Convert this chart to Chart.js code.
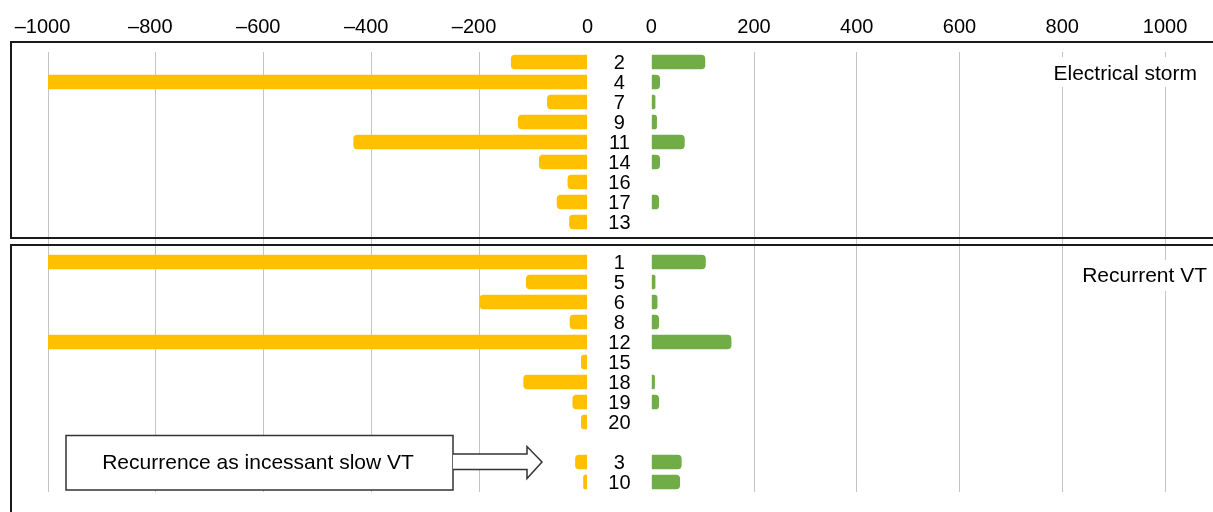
<!DOCTYPE html>
<html>
<head>
<meta charset="utf-8">
<script src="https://cdn.jsdelivr.net/npm/chart.js@4.4.1/dist/chart.umd.min.js"></script>
<style>
  html, body { margin: 0; padding: 0; background: #fff; }
  #wrap { width: 1213px; height: 512px; }
</style>
</head>
<body>
<div id="wrap"><canvas id="chart" width="1213" height="512"></canvas></div>
<script>
// patient numbers, top to bottom ("" = spacer row between groups)
const patients = ["2", "4", "7", "9", "11", "14", "16", "17", "13", "",
                  "1", "5", "6", "8", "12", "15", "18", "19", "20", "", "3", "10"];
// values drawn to the left of zero (yellow)
const leftValues = [142, 1000, 75, 129, 434, 90, 37, 57, 34, null,
                    1000, 114, 200, 33, 1000, 12, 119, 28, 12, null, 23, 8];
// values drawn to the right of zero (green)
const rightValues = [105, 17, 8, 11, 65, 17, null, 15, null, null,
                     106, 8, 12, 15, 156, null, 7, 15, null, null, 59, 56];
const leftTicks = [-1000, -800, -600, -400, -200, 0];
const rightTicks = [0, 200, 400, 600, 800, 1000];
const groupLabels = ["Electrical storm", "Recurrent VT"];
const calloutText = "Recurrence as incessant slow VT";

const FONT = '"Liberation Sans", Arial, Helvetica, sans-serif';
const YELLOW = "#FFC000";
const GREEN = "#70AD47";
const GRID = "#c4c4c4";

function gridColor(c) {
  return c.tick && c.tick.value === 0 ? "rgba(0,0,0,0)" : GRID;
}

// tick labels, boxes, labels in the middle and the callout
const decorations = {
  id: "decorations",
  afterDraw(chart) {
    const ctx = chart.ctx;
    const xl = chart.scales.xl, xr = chart.scales.xr, y = chart.scales.y;
    const area = chart.chartArea;
    ctx.save();

    // axis numbers: digits centred on the tick, the dash hangs to the left
    ctx.fillStyle = "#000";
    ctx.font = "20px " + FONT;
    ctx.textBaseline = "middle";
    ctx.textAlign = "left";
    [[xl, leftTicks], [xr, rightTicks]].forEach(([scale, ticks]) => {
      ticks.forEach(v => {
        const px = scale.getPixelForValue(v);
        const digits = String(Math.abs(v));
        const label = v < 0 ? "\u2013" + digits : digits;
        const wd = ctx.measureText(digits).width;
        const wl = ctx.measureText(label).width;
        ctx.fillText(label, px + wd / 2 - wl, 27);
      });
    });

    // panel boxes
    const gapY = y.getPixelForValue(9);
    ctx.strokeStyle = "#1a1a1a";
    ctx.lineWidth = 2;
    ctx.strokeRect(area.left, area.top - 10, 1260, gapY - 4 - (area.top - 10));
    ctx.strokeRect(area.left, gapY + 3, 1260, 400);

    // group titles
    ctx.font = "21px " + FONT;
    ctx.fillStyle = "#fff";
    ctx.fillRect(1045, 57, 160, 30);
    ctx.fillRect(1075, 260, 140, 31);
    ctx.fillStyle = "#000";
    ctx.textAlign = "right";
    ctx.fillText(groupLabels[0], 1197, 74);
    ctx.fillText(groupLabels[1], 1207, 276);

    // patient numbers between the two sides
    const midX = (xl.getPixelForValue(0) + xr.getPixelForValue(0)) / 2;
    ctx.font = "20px " + FONT;
    ctx.textAlign = "center";
    patients.forEach((p, i) => {
      if (p) ctx.fillText(p, midX, y.getPixelForValue(i) + 1);
    });

    // callout with arrow
    const tipY = y.getPixelForValue(20);
    ctx.fillStyle = "#fff";
    ctx.strokeStyle = "#333";
    ctx.lineWidth = 1.5;
    ctx.beginPath();
    ctx.rect(66, 435.5, 387, 54.5);
    ctx.fill();
    ctx.stroke();
    ctx.beginPath();
    ctx.moveTo(453, tipY - 8);
    ctx.lineTo(527, tipY - 8);
    ctx.lineTo(527, tipY - 15.5);
    ctx.lineTo(542, tipY);
    ctx.lineTo(527, tipY + 16.5);
    ctx.lineTo(527, tipY + 7.5);
    ctx.lineTo(453, tipY + 7.5);
    ctx.fill();
    ctx.stroke();
    ctx.fillStyle = "#000";
    ctx.font = "21px " + FONT;
    ctx.textAlign = "center";
    ctx.fillText(calloutText, 258, 463);

    ctx.restore();
  }
};

new Chart(document.getElementById("chart").getContext("2d"), {
  type: "bar",
  data: {
    labels: patients,
    datasets: [{
      data: leftValues.map(v => (v == null ? null : -v)),
      xAxisID: "xl",
      backgroundColor: YELLOW,
      borderRadius: c => (c.raw <= -1000 ? 0 : 4),
      borderSkipped: "start",
      grouped: false,
      barPercentage: 0.73,
      categoryPercentage: 1
    }, {
      data: rightValues,
      xAxisID: "xr",
      backgroundColor: GREEN,
      borderRadius: 4,
      borderSkipped: "start",
      grouped: false,
      barPercentage: 0.73,
      categoryPercentage: 1
    }]
  },
  options: {
    indexAxis: "y",
    responsive: false,
    animation: false,
    layout: { padding: { left: 11, right: 0, top: 0, bottom: 20 } },
    plugins: { legend: { display: false }, tooltip: { enabled: false } },
    scales: {
      // top boxes are placed in reverse order, so the right half comes first here
      xr: {
        type: "linear",
        position: "top",
        stack: "top",
        stackWeight: 593.6,
        bounds: "data",
        min: -62.1,
        max: 1093.4,
        afterBuildTicks: s => { s.ticks = rightTicks.map(v => ({ value: v })); },
        afterFit: s => { s.height = 52; },
        ticks: { display: false },
        grid: { color: gridColor, lineWidth: 1, drawTicks: false },
        border: { display: false }
      },
      xl: {
        type: "linear",
        position: "top",
        stack: "top",
        stackWeight: 608.4,
        bounds: "data",
        min: -1068.6,
        max: 59.1,
        afterBuildTicks: s => { s.ticks = leftTicks.map(v => ({ value: v })); },
        afterFit: s => { s.height = 52; },
        ticks: { display: false },
        grid: { color: gridColor, lineWidth: 1, drawTicks: false },
        border: { display: false }
      },
      y: {
        type: "category",
        display: false,
        offset: true
      }
    }
  },
  plugins: [decorations]
});
</script>
</body>
</html>
